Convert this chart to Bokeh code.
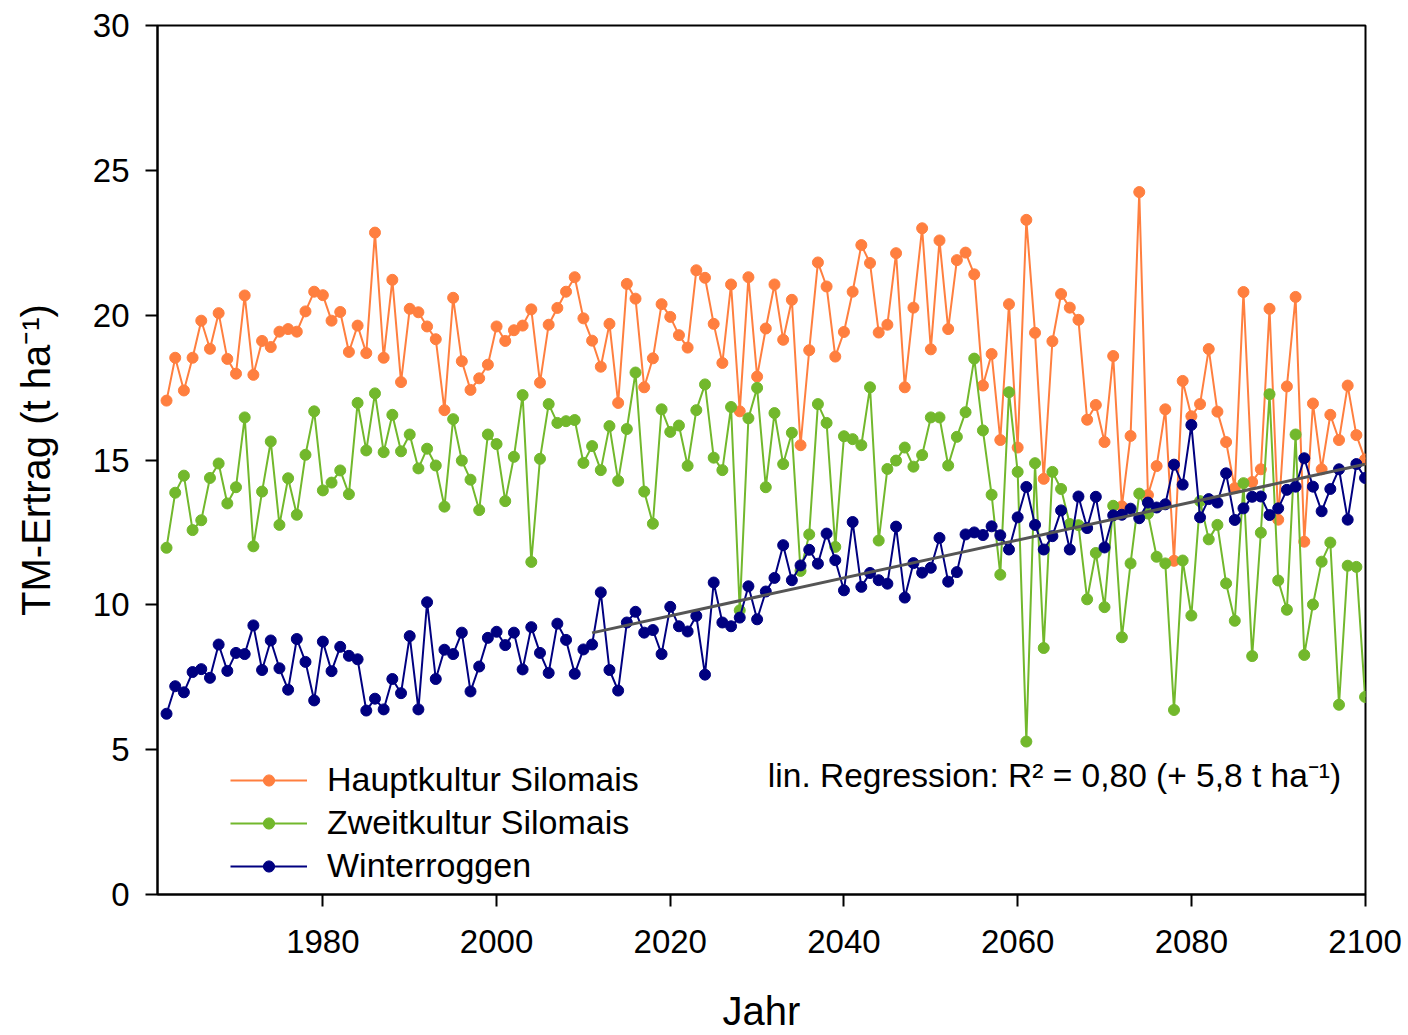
import numpy as np
from bokeh.plotting import figure
from bokeh.models import Range1d, Legend, LegendItem, Label, FixedTicker, ColumnDataSource
from bokeh.embed import file_html
from bokeh.resources import INLINE

years = list(range(1962, 2101))

hauptkultur = [
    17.05, 18.53, 17.40, 18.53, 19.81, 18.84, 20.07, 18.49, 17.98, 20.68,
    17.94, 19.11, 18.90, 19.43, 19.52, 19.43, 20.13, 20.81, 20.69, 19.81,
    20.11, 18.73, 19.64, 18.69, 22.85, 18.53, 21.22, 17.69, 20.22, 20.10,
    19.61, 19.17, 16.72, 20.60, 18.41, 17.42, 17.82, 18.29, 19.61, 19.11,
    19.48, 19.64, 20.20, 17.67, 19.67, 20.25, 20.81, 21.31, 19.89, 19.12,
    18.22, 19.70, 16.97, 21.08, 20.57, 17.51, 18.51, 20.38, 19.94, 19.31,
    18.88, 21.55, 21.29, 19.70, 18.35, 21.06, 16.68, 21.31, 17.88, 19.54,
    21.06, 19.15, 20.53, 15.51, 18.79, 21.82, 20.99, 18.57, 19.42, 20.81,
    22.42, 21.80, 19.40, 19.67, 22.14, 17.51, 20.26, 23.00, 18.82, 22.58,
    19.52, 21.90, 22.16, 21.41, 17.57, 18.66, 15.69, 20.38, 15.43, 23.29,
    19.39, 14.35, 19.10, 20.73, 20.26, 19.84, 16.39, 16.90, 15.62, 18.59,
    13.40, 15.83, 24.25, 13.79, 14.79, 16.75, 11.52, 17.73, 16.51, 16.93,
    18.83, 16.67, 15.62, 14.03, 20.80, 14.24, 14.68, 20.22, 12.94, 17.54,
    20.63, 12.18, 16.95, 14.68, 16.56, 15.69, 17.57, 15.86, 15.02,
]

zweitkultur = [
    11.97, 13.87, 14.46, 12.58, 12.92, 14.38, 14.88, 13.50, 14.06, 16.47,
    12.02, 13.91, 15.64, 12.76, 14.37, 13.11, 15.18, 16.68, 13.95, 14.22,
    14.64, 13.82, 16.97, 15.33, 17.30, 15.27, 16.56, 15.30, 15.88, 14.71,
    15.39, 14.81, 13.39, 16.41, 14.98, 14.32, 13.27, 15.88, 15.55, 13.58,
    15.11, 17.24, 11.48, 15.04, 16.93, 16.28, 16.34, 16.38, 14.90, 15.48,
    14.65, 16.17, 14.28, 16.07, 18.02, 13.91, 12.80, 16.75, 15.97, 16.19,
    14.80, 16.72, 17.61, 15.08, 14.65, 16.83, 9.81, 16.44, 17.49, 14.06,
    16.62, 14.86, 15.94, 11.17, 12.43, 16.93, 16.28, 12.00, 15.82, 15.72,
    15.51, 17.51, 12.22, 14.69, 14.98, 15.43, 14.77, 15.17, 16.47, 16.47,
    14.81, 15.80, 16.65, 18.50, 16.02, 13.80, 11.04, 17.34, 14.59, 5.28,
    14.89, 8.51, 14.59, 14.00, 12.79, 12.75, 10.19, 11.79, 9.92, 13.42,
    8.88, 11.43, 13.84, 13.15, 11.66, 11.43, 6.37, 11.53, 9.63, 13.58,
    12.26, 12.76, 10.74, 9.45, 14.20, 8.23, 12.49, 17.27, 10.84, 9.83,
    15.88, 8.27, 10.01, 11.49, 12.15, 6.55, 11.35, 11.31, 6.82,
]

winterroggen = [
    6.24, 7.19, 6.98, 7.68, 7.78, 7.48, 8.63, 7.72, 8.34, 8.30,
    9.29, 7.75, 8.77, 7.81, 7.07, 8.82, 8.03, 6.70, 8.73, 7.71,
    8.55, 8.24, 8.12, 6.35, 6.76, 6.39, 7.44, 6.95, 8.92, 6.39,
    10.09, 7.44, 8.45, 8.30, 9.04, 7.01, 7.87, 8.86, 9.07, 8.61,
    9.04, 7.77, 9.23, 8.34, 7.65, 9.35, 8.79, 7.62, 8.46, 8.63,
    10.43, 7.75, 7.04, 9.39, 9.76, 9.04, 9.13, 8.30, 9.93, 9.26,
    9.08, 9.62, 7.59, 10.77, 9.39, 9.26, 9.56, 10.64, 9.50, 10.46,
    10.93, 12.06, 10.85, 11.36, 11.90, 11.42, 12.46, 11.54, 10.50, 12.86,
    10.62, 11.10, 10.85, 10.73, 12.70, 10.25, 11.44, 11.11, 11.28, 12.31,
    10.80, 11.13, 12.43, 12.50, 12.41, 12.71, 12.40, 11.91, 13.02, 14.07,
    12.76, 11.91, 12.37, 13.26, 11.91, 13.74, 12.65, 13.73, 11.98, 13.09,
    13.11, 13.32, 12.99, 13.53, 13.36, 13.47, 14.84, 14.15, 16.21, 13.02,
    13.65, 13.53, 14.54, 12.93, 13.33, 13.73, 13.74, 13.10, 13.33, 13.97,
    14.08, 15.06, 14.08, 13.23, 14.00, 14.68, 12.94, 14.86, 14.38,
]

x_ticks = [1980, 2000, 2020, 2040, 2060, 2080, 2100]
y_ticks = [0, 5, 10, 15, 20, 25, 30]
regression_start = 2011

assert len(hauptkultur) == len(years)
assert len(zweitkultur) == len(years)
assert len(winterroggen) == len(years)

FONT = "Liberation Sans"
C_ORANGE = "#FF7F3F"
C_GREEN = "#72B82C"
C_BLUE = "#000080"

p = figure(width=1405, height=1035, output_backend="svg", toolbar_location=None,
           x_range=Range1d(1960.96, 2100.05), y_range=Range1d(0, 30),
           min_border_left=157, min_border_right=40, min_border_top=25, min_border_bottom=141)

p.xgrid.visible = False
p.ygrid.visible = False
p.outline_line_color = "black"
p.outline_line_width = 2
p.outline_line_alpha = 1.0
p.background_fill_color = "white"

for ax in (p.xaxis[0], p.yaxis[0]):
    ax.axis_line_width = 2
    ax.major_tick_line_width = 2
    ax.major_tick_out = 12
    ax.major_tick_in = 0
    ax.minor_tick_line_color = None
    ax.major_label_text_font = FONT
    ax.major_label_text_font_size = "33px"
    ax.major_label_text_color = "black"
    ax.axis_label_text_font = FONT
    ax.axis_label_text_font_size = "40px"
    ax.axis_label_text_font_style = "normal"
    ax.axis_label_text_color = "black"

p.xaxis.ticker = FixedTicker(ticks=x_ticks)
p.yaxis.ticker = FixedTicker(ticks=y_ticks)
p.xaxis.axis_label = "Jahr"
p.yaxis.axis_label = "TM-Ertrag (t ha\u207b\u00b9)"
p.yaxis.major_label_standoff = 16
p.xaxis.major_label_standoff = 23
p.yaxis.axis_label_standoff = 32
p.xaxis.axis_label_standoff = 33

src = ColumnDataSource(dict(year=years, h=hauptkultur, z=zweitkultur, w=winterroggen))

l1 = p.line("year", "h", source=src, line_color=C_ORANGE, line_width=2)
s1 = p.scatter("year", "h", source=src, size=11, fill_color=C_ORANGE, line_color=C_ORANGE)
l2 = p.line("year", "z", source=src, line_color=C_GREEN, line_width=2)
s2 = p.scatter("year", "z", source=src, size=11, fill_color=C_GREEN, line_color=C_GREEN)
l3 = p.line("year", "w", source=src, line_color=C_BLUE, line_width=2)
s3 = p.scatter("year", "w", source=src, size=11, fill_color=C_BLUE, line_color=C_BLUE)

# linear regression of Winterroggen from 2011 on
yr = np.array(years)
wr = np.array(winterroggen)
mask = yr >= regression_start
k, d = np.polyfit(yr[mask], wr[mask], 1)
rx = [int(yr[mask][0]), int(yr[mask][-1])]
ry = [k * rx[0] + d, k * rx[1] + d]
p.line(rx, ry, line_color="#555555", line_width=3)

legend = Legend(items=[
    LegendItem(label="Hauptkultur Silomais", renderers=[l1, s1]),
    LegendItem(label="Zweitkultur Silomais", renderers=[l2, s2]),
    LegendItem(label="Winterroggen", renderers=[l3, s3]),
], location=(73, 7))
legend.border_line_alpha = 0
legend.background_fill_alpha = 0
legend.padding = 0
legend.margin = 0
legend.spacing = 0
legend.label_standoff = 20
legend.glyph_width = 77
legend.glyph_height = 28
legend.label_height = 43
legend.label_text_font = FONT
legend.label_text_font_size = "34px"
legend.label_text_color = "black"
legend.label_text_baseline = "middle"
p.add_layout(legend)

reg_label = Label(x=2097.25, y=4.1, text="lin. Regression: R\u00b2 = 0,80 (+ 5,8 t ha\u207b\u00b9)",
                  text_align="right", text_baseline="middle",
                  text_font=FONT, text_font_size="33.5px", text_color="black")
p.add_layout(reg_label)

open("out.html", "w").write(file_html(p, INLINE))
